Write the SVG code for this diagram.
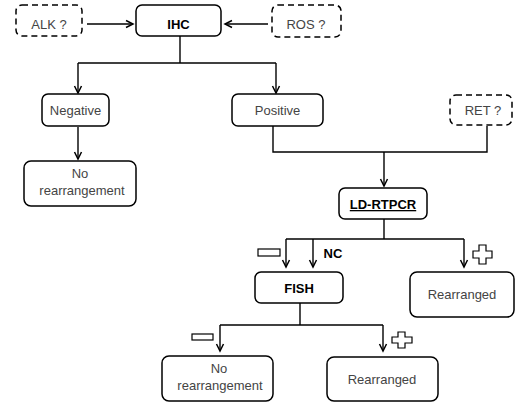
<svg xmlns="http://www.w3.org/2000/svg" width="515" height="403" viewBox="0 0 515 403">
<style>
.box{fill:#fff;stroke:#000;stroke-width:1.5}
.dash{fill:#fff;stroke:#000;stroke-width:1.5;stroke-dasharray:6 4}
.t{font-family:"Liberation Sans",Arial,sans-serif;font-size:13px;fill:#444;text-anchor:middle}
.b{font-family:"Liberation Sans",Arial,sans-serif;font-size:13px;font-weight:bold;fill:#000;text-anchor:middle}
.c{fill:none;stroke:#000;stroke-width:1.4}
.sym{fill:#fff;stroke:#000;stroke-width:1.2}
</style>
<defs>
<marker id="ah" markerWidth="10" markerHeight="10" refX="8" refY="5" orient="auto" markerUnits="userSpaceOnUse">
<path d="M1,1.5 L8,5 L1,8.5" fill="none" stroke="#000" stroke-width="1.5"/>
</marker>
</defs>
<g id="connectors">
<path class="c" d="M87,24 H133" marker-end="url(#ah)"/>
<path class="c" d="M268,24 H225" marker-end="url(#ah)"/>
<path class="c" d="M180,36 V63"/>
<path class="c" d="M78,63 H276"/>
<path class="c" d="M78,63 V93" marker-end="url(#ah)"/>
<path class="c" d="M276,63 V93" marker-end="url(#ah)"/>
<path class="c" d="M78,127 V159" marker-end="url(#ah)"/>
<path class="c" d="M273,126 V152 H487 V126"/>
<path class="c" d="M384,152 V186" marker-end="url(#ah)"/>
<path class="c" d="M384,219 V239"/>
<path class="c" d="M286,239 H464"/>
<path class="c" d="M286,239 V267" marker-end="url(#ah)"/>
<path class="c" d="M313,239 V267" marker-end="url(#ah)"/>
<path class="c" d="M464,239 V267" marker-end="url(#ah)"/>
<path class="c" d="M300,303 V325"/>
<path class="c" d="M220,325 H383"/>
<path class="c" d="M220,325 V351" marker-end="url(#ah)"/>
<path class="c" d="M383,325 V351" marker-end="url(#ah)"/>
</g>
<g id="alk"><rect class="dash" x="16" y="5" width="66" height="31" rx="6"/><text class="t" x="49" y="29">ALK ?</text></g>
<g id="ihc"><rect class="box" x="136" y="5" width="85" height="31" rx="6"/><text class="b" x="178.5" y="29">IHC</text></g>
<g id="ros"><rect class="dash" x="272" y="5" width="69" height="32" rx="6"/><text class="t" x="306" y="29">ROS ?</text></g>
<g id="negative"><rect class="box" x="42" y="94" width="67" height="32" rx="6"/><text class="t" x="75.5" y="115">Negative</text></g>
<g id="positive"><rect class="box" x="232" y="94" width="91" height="32" rx="6"/><text class="t" x="277.5" y="115">Positive</text></g>
<g id="ret"><rect class="dash" x="450" y="95" width="62" height="30" rx="6"/><text class="t" x="483" y="115">RET ?</text></g>
<g id="norearr1"><rect class="box" x="24" y="161" width="112" height="45" rx="7"/><text class="t" x="80" y="178">No</text><text class="t" x="82" y="195">rearrangement</text></g>
<g id="ldrtpcr"><rect class="box" x="339" y="188" width="88" height="31" rx="6"/><text class="b" x="383" y="209" text-decoration="underline">LD-RTPCR</text></g>
<g id="fish"><rect class="box" x="255" y="272" width="88" height="31" rx="6"/><text class="b" x="299" y="293">FISH</text></g>
<g id="rearr1"><rect class="box" x="410" y="272" width="104" height="45" rx="7"/><text class="t" x="462" y="299">Rearranged</text></g>
<g id="norearr2"><rect class="box" x="162" y="356" width="111" height="45" rx="7"/><text class="t" x="219" y="373">No</text><text class="t" x="220" y="390">rearrangement</text></g>
<g id="rearr2"><rect class="box" x="327" y="357" width="111" height="44" rx="7"/><text class="t" x="382" y="384">Rearranged</text></g>
<g id="labels">
<rect class="sym" x="258" y="249" width="22" height="7"/>
<text class="b" x="333" y="258">NC</text>
<path class="sym" d="M479,245 H486 V251 H492 V258 H486 V264 H479 V258 H473 V251 H479 Z"/>
<rect class="sym" x="192" y="334" width="21" height="6"/>
<path class="sym" d="M398,332 H405 V337 H412 V343 H405 V348 H398 V343 H392 V337 H398 Z"/>
</g>
</svg>
